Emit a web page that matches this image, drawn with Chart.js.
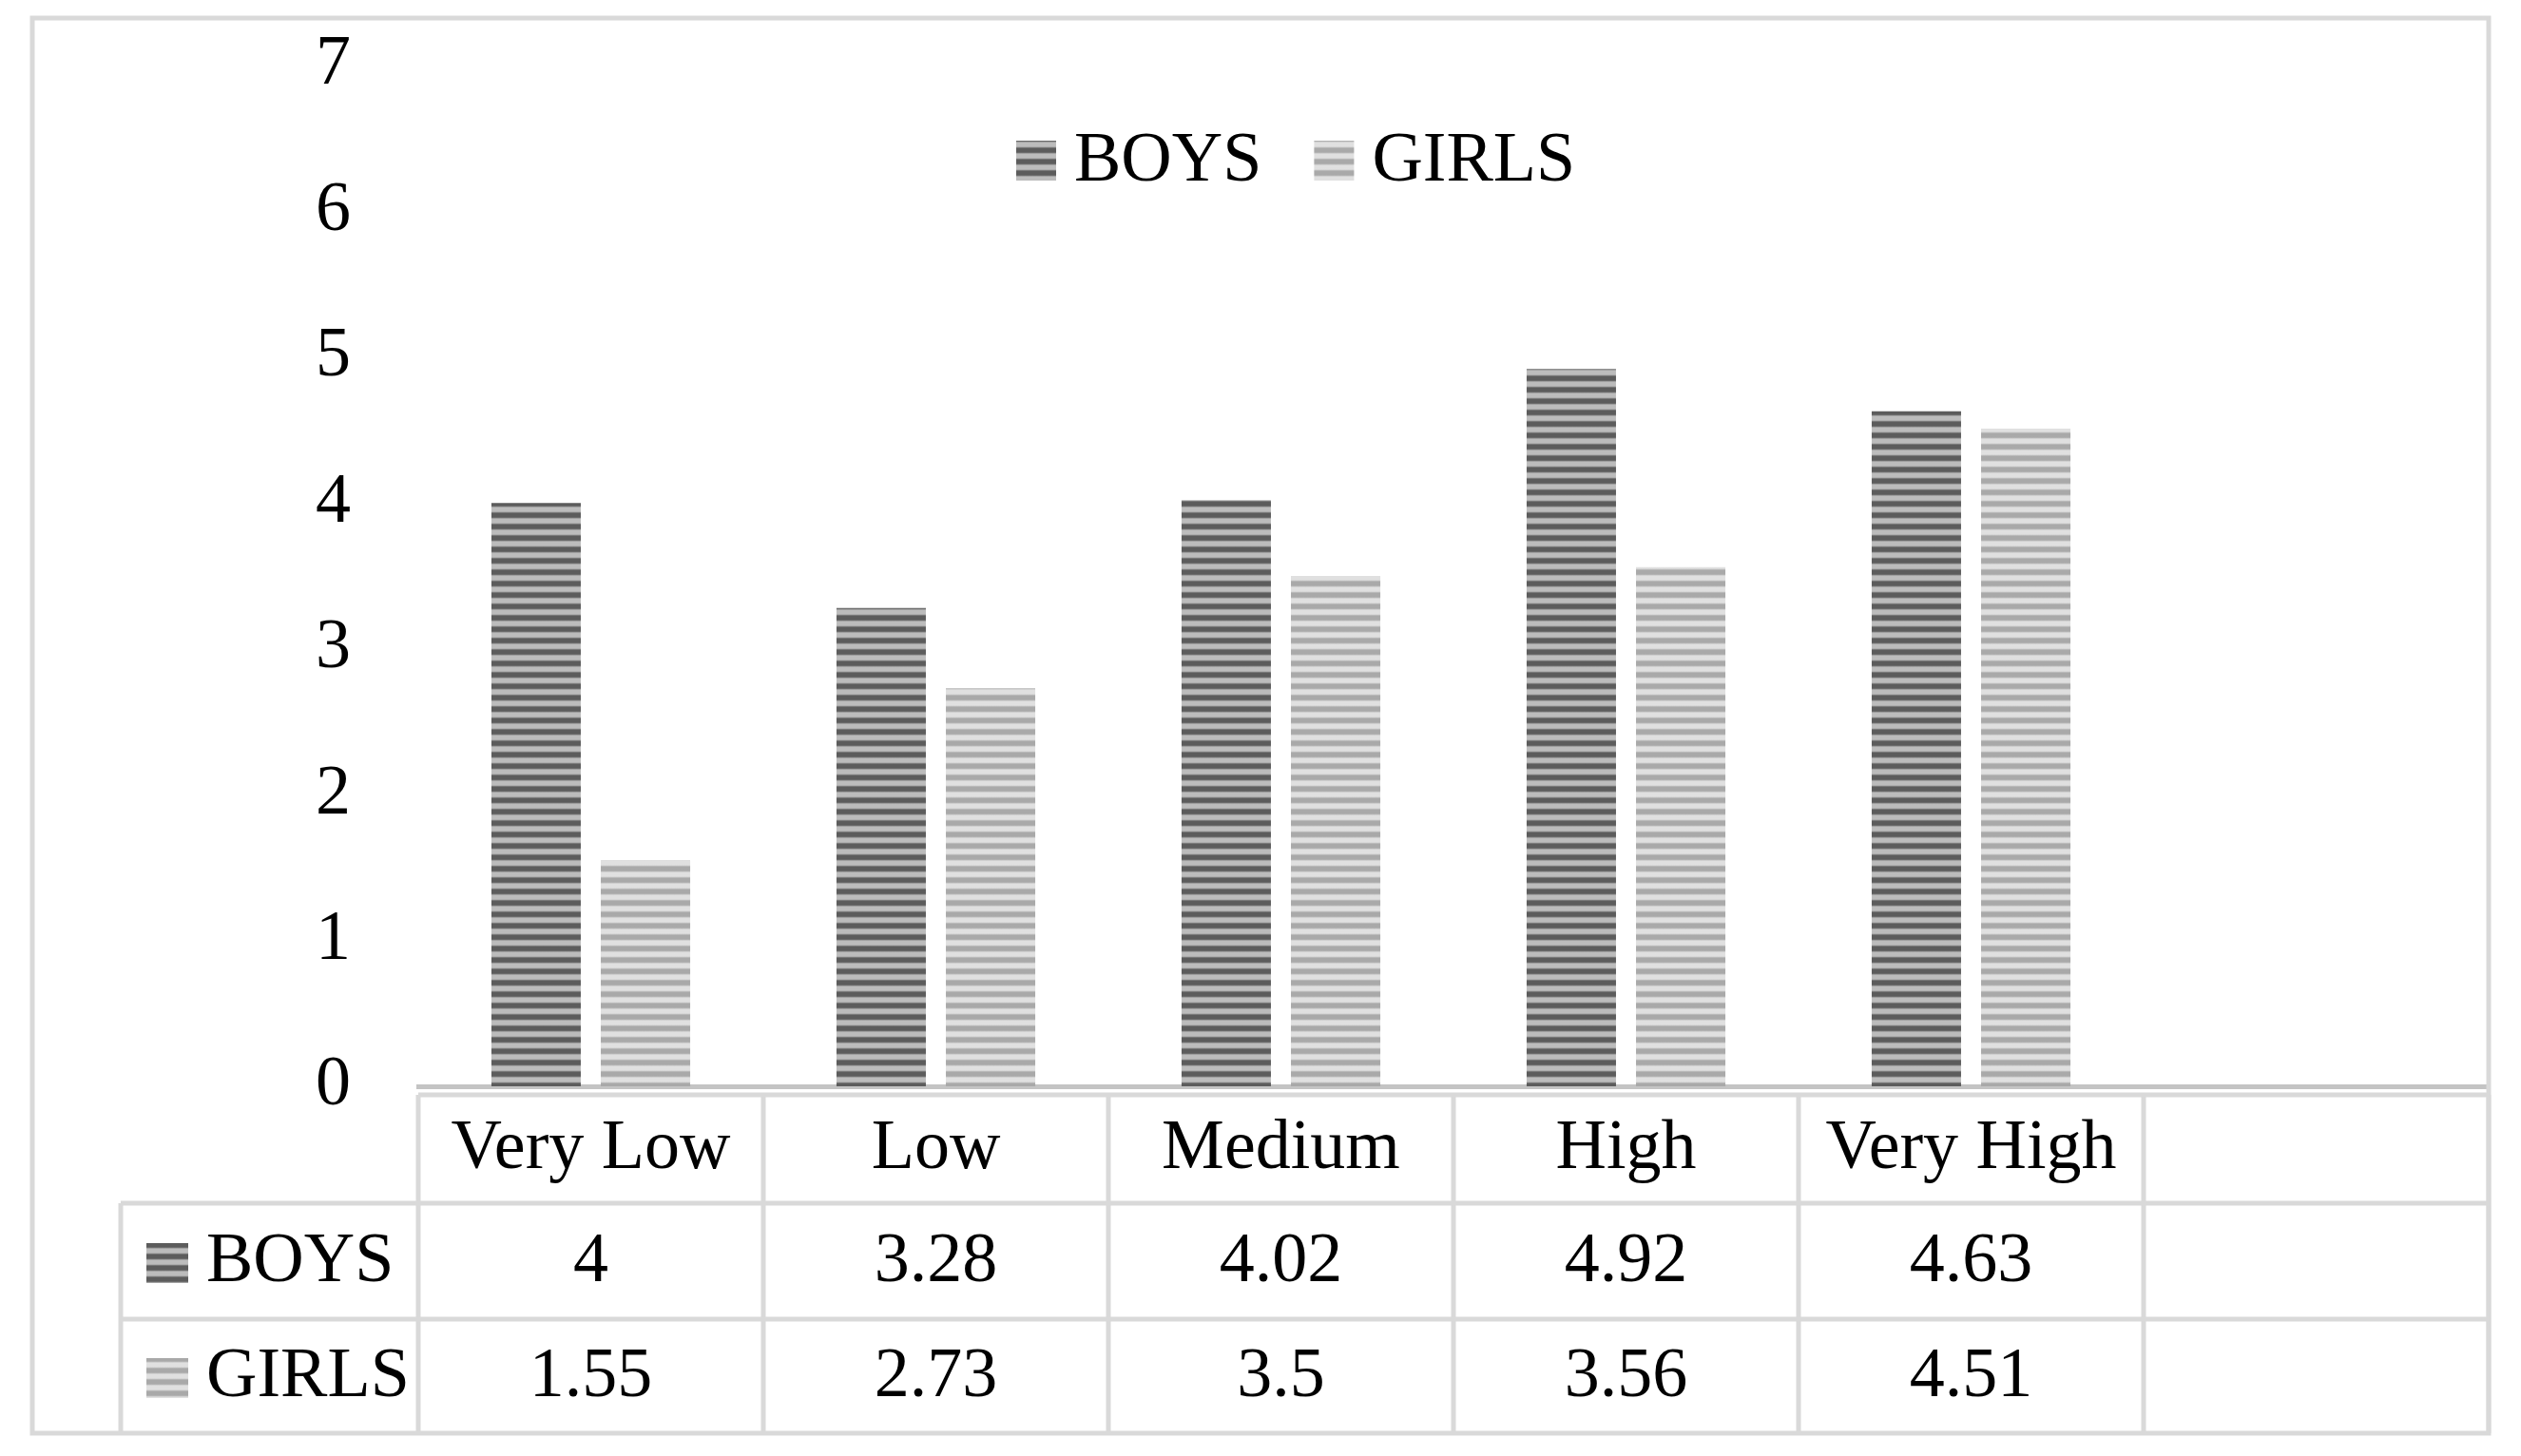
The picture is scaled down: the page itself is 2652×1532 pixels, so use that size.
<!DOCTYPE html>
<html>
<head>
<meta charset="utf-8">
<script src="https://cdn.jsdelivr.net/npm/chart.js@4.4.1/dist/chart.umd.min.js"></script>
<style>
  html, body { margin: 0; padding: 0; background: #fff; }
  #wrap { width: 2652px; height: 1532px; }
</style>
</head>
<body>
<div id="wrap"><canvas id="grafico" width="2652" height="1532"></canvas></div>
<script>
// datos del grafico
const categorias = ['Very Low', 'Low', 'Medium', 'High', 'Very High', ''];
const series = ['BOYS', 'GIRLS'];
const valoresBoys = [4, 3.28, 4.02, 4.92, 4.63, null];
const valoresGirls = [1.55, 2.73, 3.5, 3.56, 4.51, null];
const yMin = 0, yMax = 7, yPaso = 1;

const FUENTE = '"Liberation Serif", "Times New Roman", serif';
const TAM = 74;
const GRIS = '#d9d9d9';

// rayas horizontales tipo Excel
function crearRayas(oscuro, claro) {
    const c = document.createElement('canvas');
    c.width = 8; c.height = 12;
    const g = c.getContext('2d');
    const grad = g.createLinearGradient(0, 0, 0, 12);
    grad.addColorStop(0, oscuro);
    grad.addColorStop(0.35, oscuro);
    grad.addColorStop(0.5, claro);
    grad.addColorStop(0.85, claro);
    grad.addColorStop(1, oscuro);
    g.fillStyle = grad;
    g.fillRect(0, 0, 8, 12);
    return document.getElementById('grafico').getContext('2d').createPattern(c, 'repeat');
}
const rayaBoys = crearRayas('#5c5c5c', '#bcbcbc');
const rayaGirls = crearRayas('#a9a9a9', '#e0e0e0');
const patrones = [rayaBoys, rayaGirls];
const valores = [valoresBoys, valoresGirls];

const tablaPlugin = {
    id: 'tablaDatos',
    beforeDraw(chart) {
        const ctx = chart.ctx;
        ctx.save();
        ctx.fillStyle = '#fff';
        ctx.fillRect(0, 0, chart.width, chart.height);
        ctx.restore();
    },
    afterDraw(chart) {
        const ctx = chart.ctx;
        const x = chart.scales.x;
        const area = chart.chartArea;
        const ancho = x.getPixelForValue(1) - x.getPixelForValue(0);
        const bordes = categorias.map((_, i) => x.getPixelForValue(i) - ancho / 2);
        bordes.push(x.getPixelForValue(categorias.length - 1) + ancho / 2);

        const filas = [area.bottom + 9, 1266, 1388, 1508];
        const izq = 127;

        ctx.save();
        ctx.strokeStyle = GRIS;
        ctx.lineWidth = 5;

        // marco exterior
        ctx.strokeRect(34, 19, 2584, 1489);

        // lineas horizontales de la tabla
        ctx.beginPath();
        ctx.moveTo(bordes[0], filas[0]); ctx.lineTo(area.right, filas[0]);
        ctx.moveTo(izq, filas[1]); ctx.lineTo(area.right, filas[1]);
        ctx.moveTo(izq, filas[2]); ctx.lineTo(area.right, filas[2]);
        // verticales
        bordes.forEach(b => { ctx.moveTo(b, filas[0]); ctx.lineTo(b, filas[3]); });
        ctx.moveTo(izq, filas[1]); ctx.lineTo(izq, filas[3]);
        ctx.stroke();

        // filas de valores
        ctx.fillStyle = '#000';
        ctx.font = TAM + 'px ' + FUENTE;
        ctx.textBaseline = 'middle';
        series.forEach((nombre, s) => {
            const yc = (filas[s + 1] + filas[s + 2]) / 2 + 2;
            ctx.fillStyle = patrones[s];
            ctx.fillRect(154, yc - 21, 44, 42);
            ctx.fillStyle = '#000';
            ctx.textAlign = 'left';
            ctx.fillText(nombre, 217, yc);
            ctx.textAlign = 'center';
            valores[s].forEach((v, i) => {
                if (v === null) return;
                ctx.fillText(String(v), x.getPixelForValue(i), yc);
            });
        });

        // leyenda superior
        const yl = 169;
        let xl = 1069;
        ctx.textAlign = 'left';
        series.forEach((nombre, s) => {
            ctx.fillStyle = patrones[s];
            ctx.fillRect(xl, yl - 21, 42, 42);
            ctx.fillStyle = '#000';
            ctx.fillText(nombre, xl + 61, yl + 2);
            xl += 61 + ctx.measureText(nombre).width + 55;
        });
        ctx.restore();
    }
};

new Chart(document.getElementById('grafico'), {
    type: 'bar',
    data: {
        labels: categorias,
        datasets: [{
            label: series[0],
            data: valoresBoys,
            backgroundColor: rayaBoys,
            borderWidth: 0
        }, {
            label: series[1],
            data: valoresGirls,
            backgroundColor: rayaGirls,
            borderWidth: 0
        }]
    },
    options: {
        responsive: false,
        devicePixelRatio: 1,
        animation: false,
        categoryPercentage: 0.634,
        barPercentage: 0.817,
        layout: { padding: { top: 69, right: 34, left: 332, bottom: 0 } },
        plugins: {
            legend: { display: false },
            tooltip: { enabled: false }
        },
        scales: {
            x: {
                grid: { display: false, drawTicks: false },
                border: { display: true, color: '#c4c4c4', width: 5 },
                ticks: {
                    color: '#000',
                    font: { family: FUENTE, size: TAM },
                    padding: 22,
                    maxRotation: 0,
                    autoSkip: false
                },
                afterFit(scale) { scale.height = 1532 - 1143; }
            },
            y: {
                min: yMin,
                max: yMax,
                grid: { display: false, drawTicks: false },
                border: { display: false },
                ticks: {
                    stepSize: yPaso,
                    color: '#000',
                    font: { family: FUENTE, size: TAM },
                    padding: 0,
                    crossAlign: 'far'
                },
                afterFit(scale) { scale.width = 440 - 332; }
            }
        }
    },
    plugins: [tablaPlugin]
});
</script>
</body>
</html>
